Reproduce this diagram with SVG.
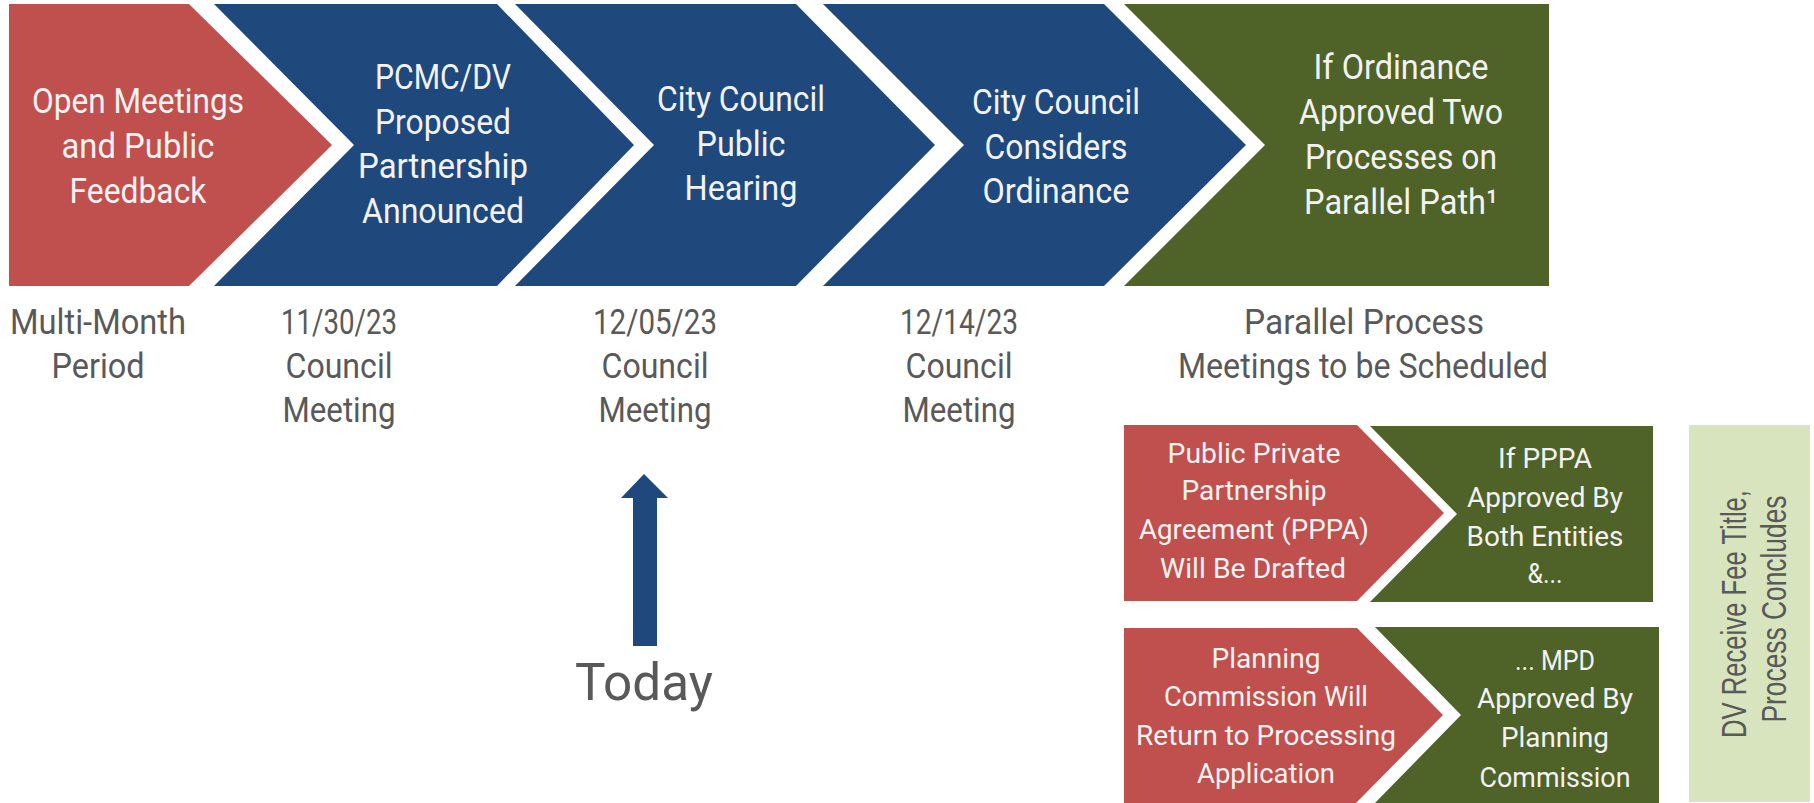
<svg xmlns="http://www.w3.org/2000/svg" width="1814" height="803" viewBox="0 0 1814 803">
<style>
.red{fill:#C0504D}
.blue{fill:#1F497D}
.grn{fill:#4F6228}
.lgrn{fill:#D7E4BD}
text{font-family:Roboto,"Liberation Sans",sans-serif;text-anchor:middle}
.w{fill:#F2F2F2}
.g{fill:#595959}
.b{font-size:35px}
.s{font-size:28px}
.v{font-family:"Liberation Sans",Arial,sans-serif;font-size:35px;fill:#595959}
</style>
<rect width="1814" height="803" fill="#FFFFFF"/>
<g id="step-open-meetings">
<polygon class="red" points="9,4 189,4 332,145 189,286 9,286"/>
<text class="w b" x="138" y="113" textLength="212" lengthAdjust="spacingAndGlyphs">Open Meetings</text>
<text class="w b" x="138" y="158" textLength="153" lengthAdjust="spacingAndGlyphs">and Public</text>
<text class="w b" x="138" y="203" textLength="137" lengthAdjust="spacingAndGlyphs">Feedback</text>
</g>
<g id="step-partnership">
<polygon class="blue" points="214,4 497,4 634,145 497,286 214,286 354,145"/>
<text class="w b" x="443" y="89" textLength="136" lengthAdjust="spacingAndGlyphs">PCMC/DV</text>
<text class="w b" x="443" y="134" textLength="136" lengthAdjust="spacingAndGlyphs">Proposed</text>
<text class="w b" x="443" y="178" textLength="170" lengthAdjust="spacingAndGlyphs">Partnership</text>
<text class="w b" x="443" y="223" textLength="162" lengthAdjust="spacingAndGlyphs">Announced</text>
</g>
<g id="step-hearing">
<polygon class="blue" points="515,4 796,4 935,145 796,286 515,286 654,145"/>
<text class="w b" x="741" y="111" textLength="168" lengthAdjust="spacingAndGlyphs">City Council</text>
<text class="w b" x="741" y="156" textLength="89" lengthAdjust="spacingAndGlyphs">Public</text>
<text class="w b" x="741" y="200" textLength="113" lengthAdjust="spacingAndGlyphs">Hearing</text>
</g>
<g id="step-ordinance">
<polygon class="blue" points="823,4 1104,4 1246,145 1104,286 823,286 964,145"/>
<text class="w b" x="1056" y="114" textLength="168" lengthAdjust="spacingAndGlyphs">City Council</text>
<text class="w b" x="1056" y="159" textLength="143" lengthAdjust="spacingAndGlyphs">Considers</text>
<text class="w b" x="1056" y="203" textLength="147" lengthAdjust="spacingAndGlyphs">Ordinance</text>
</g>
<g id="step-parallel">
<polygon class="grn" points="1124,4 1549,4 1549,286 1124,286 1265,145"/>
<text class="w b" x="1401" y="79" textLength="175" lengthAdjust="spacingAndGlyphs">If Ordinance</text>
<text class="w b" x="1401" y="124" textLength="204" lengthAdjust="spacingAndGlyphs">Approved Two</text>
<text class="w b" x="1401" y="169" textLength="192" lengthAdjust="spacingAndGlyphs">Processes on</text>
<text class="w b" x="1401" y="214" textLength="194" lengthAdjust="spacingAndGlyphs">Parallel Path¹</text>
</g>
<g id="label-period">
<text class="g b" x="98" y="334" textLength="176" lengthAdjust="spacingAndGlyphs">Multi-Month</text>
<text class="g b" x="98" y="378" textLength="93" lengthAdjust="spacingAndGlyphs">Period</text>
</g>
<g id="label-1130">
<text class="g b" x="339" y="334" textLength="116" lengthAdjust="spacingAndGlyphs">11/30/23</text>
<text class="g b" x="339" y="378" textLength="107" lengthAdjust="spacingAndGlyphs">Council</text>
<text class="g b" x="339" y="422" textLength="113" lengthAdjust="spacingAndGlyphs">Meeting</text>
</g>
<g id="label-1205">
<text class="g b" x="655" y="334" textLength="124" lengthAdjust="spacingAndGlyphs">12/05/23</text>
<text class="g b" x="655" y="378" textLength="107" lengthAdjust="spacingAndGlyphs">Council</text>
<text class="g b" x="655" y="422" textLength="113" lengthAdjust="spacingAndGlyphs">Meeting</text>
</g>
<g id="label-1214">
<text class="g b" x="959" y="334" textLength="118" lengthAdjust="spacingAndGlyphs">12/14/23</text>
<text class="g b" x="959" y="378" textLength="107" lengthAdjust="spacingAndGlyphs">Council</text>
<text class="g b" x="959" y="422" textLength="113" lengthAdjust="spacingAndGlyphs">Meeting</text>
</g>
<g id="label-parallel">
<text class="g b" x="1364" y="334" textLength="240" lengthAdjust="spacingAndGlyphs">Parallel Process</text>
<text class="g b" x="1363" y="378" textLength="370" lengthAdjust="spacingAndGlyphs">Meetings to be Scheduled</text>
</g>
<g id="pppa-drafted">
<polygon class="red" points="1124,425 1357,425 1444,513 1357,601 1124,601"/>
<text class="w s" x="1254" y="463" textLength="173" lengthAdjust="spacingAndGlyphs">Public Private</text>
<text class="w s" x="1254" y="500" textLength="145" lengthAdjust="spacingAndGlyphs">Partnership</text>
<text class="w s" x="1254" y="539" textLength="230" lengthAdjust="spacingAndGlyphs">Agreement (PPPA)</text>
<text class="w s" x="1253" y="578" textLength="186" lengthAdjust="spacingAndGlyphs">Will Be Drafted</text>
</g>
<g id="pppa-approved">
<polygon class="grn" points="1370,426 1653,426 1653,602 1370,602 1457,514"/>
<text class="w s" x="1545" y="468" textLength="94" lengthAdjust="spacingAndGlyphs">If PPPA</text>
<text class="w s" x="1545" y="507" textLength="156" lengthAdjust="spacingAndGlyphs">Approved By</text>
<text class="w s" x="1545" y="546" textLength="157" lengthAdjust="spacingAndGlyphs">Both Entities</text>
<text class="w s" x="1545" y="583" textLength="35" lengthAdjust="spacingAndGlyphs">&amp;...</text>
</g>
<g id="planning-return">
<polygon class="red" points="1124,628 1357,628 1443,715 1356,803 1124,803"/>
<text class="w s" x="1266" y="668" textLength="109" lengthAdjust="spacingAndGlyphs">Planning</text>
<text class="w s" x="1266" y="706" textLength="204" lengthAdjust="spacingAndGlyphs">Commission Will</text>
<text class="w s" x="1266" y="745" textLength="260" lengthAdjust="spacingAndGlyphs">Return to Processing</text>
<text class="w s" x="1266" y="783" textLength="138" lengthAdjust="spacingAndGlyphs">Application</text>
</g>
<g id="mpd-approved">
<polygon class="grn" points="1375,627 1659,627 1659,803 1375,803 1461,715"/>
<text class="w s" x="1555" y="670" textLength="80" lengthAdjust="spacingAndGlyphs">... MPD</text>
<text class="w s" x="1555" y="708" textLength="156" lengthAdjust="spacingAndGlyphs">Approved By</text>
<text class="w s" x="1555" y="747" textLength="108" lengthAdjust="spacingAndGlyphs">Planning</text>
<text class="w s" x="1555" y="787" textLength="151" lengthAdjust="spacingAndGlyphs">Commission</text>
</g>
<g id="fee-title">
<rect class="lgrn" x="1689" y="425" width="121" height="377"/>
<text class="v" transform="translate(1746,614) rotate(-90)" textLength="248" lengthAdjust="spacingAndGlyphs">DV Receive Fee Title,</text>
<text class="v" transform="translate(1786,609) rotate(-90)" textLength="227" lengthAdjust="spacingAndGlyphs">Process Concludes</text>
</g>
<g id="connectors">
<polygon class="blue" points="644,474 668,498 657,498 657,646 633,646 633,498 621,498"/>
</g>
<g id="today">
<text class="g" x="644" y="700" font-size="52" textLength="138" lengthAdjust="spacingAndGlyphs">Today</text>
</g>
</svg>
